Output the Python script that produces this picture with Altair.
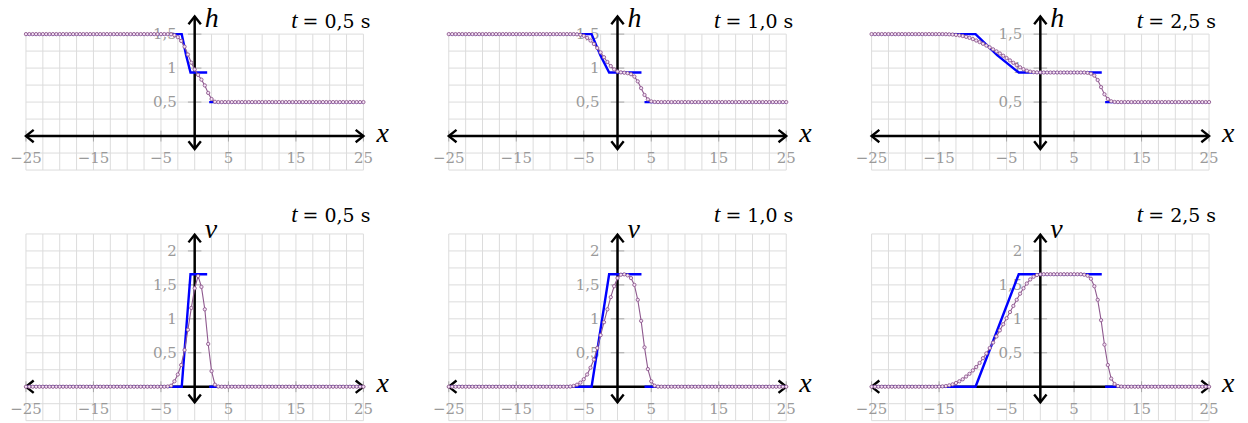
import altair as alt
import pandas as pd

# ---- cell centres of the finite-volume grid ----
X_CELLS = [
    -25.0, -24.5, -24.0, -23.5, -23.0, -22.5, -22.0, -21.5, -21.0, -20.5,
    -20.0, -19.5, -19.0, -18.5, -18.0, -17.5, -17.0, -16.5, -16.0, -15.5,
    -15.0, -14.5, -14.0, -13.5, -13.0, -12.5, -12.0, -11.5, -11.0, -10.5,
    -10.0, -9.5, -9.0, -8.5, -8.0, -7.5, -7.0, -6.5, -6.0, -5.5,
    -5.0, -4.5, -4.0, -3.5, -3.0, -2.5, -2.0, -1.5, -1.0, -0.5,
    0.0, 0.5, 1.0, 1.5, 2.0, 2.5, 3.0, 3.5, 4.0, 4.5,
    5.0, 5.5, 6.0, 6.5, 7.0, 7.5, 8.0, 8.5, 9.0, 9.5,
    10.0, 10.5, 11.0, 11.5, 12.0, 12.5, 13.0, 13.5, 14.0, 14.5,
    15.0, 15.5, 16.0, 16.5, 17.0, 17.5, 18.0, 18.5, 19.0, 19.5,
    20.0, 20.5, 21.0, 21.5, 22.0, 22.5, 23.0, 23.5, 24.0, 24.5,
    25.0,
]

# ---- numerical solution: water depth h ----
H_T05 = [
    1.5, 1.5, 1.5, 1.5, 1.5, 1.5, 1.5, 1.5, 1.5, 1.5,
    1.5, 1.5, 1.5, 1.5, 1.5, 1.5, 1.5, 1.5, 1.5, 1.5,
    1.5, 1.5, 1.5, 1.5, 1.5, 1.5, 1.5, 1.5, 1.5, 1.5,
    1.5, 1.5, 1.5, 1.5, 1.5, 1.5, 1.5, 1.5, 1.5, 1.5,
    1.5, 1.5, 1.5, 1.497, 1.485, 1.455, 1.4, 1.315, 1.2, 1.08,
    0.98, 0.9, 0.83, 0.745, 0.635, 0.545, 0.505, 0.5, 0.5, 0.5,
    0.5, 0.5, 0.5, 0.5, 0.5, 0.5, 0.5, 0.5, 0.5, 0.5,
    0.5, 0.5, 0.5, 0.5, 0.5, 0.5, 0.5, 0.5, 0.5, 0.5,
    0.5, 0.5, 0.5, 0.5, 0.5, 0.5, 0.5, 0.5, 0.5, 0.5,
    0.5, 0.5, 0.5, 0.5, 0.5, 0.5, 0.5, 0.5, 0.5, 0.5,
    0.5,
]
H_T10 = [
    1.5, 1.5, 1.5, 1.5, 1.5, 1.5, 1.5, 1.5, 1.5, 1.5,
    1.5, 1.5, 1.5, 1.5, 1.5, 1.5, 1.5, 1.5, 1.5, 1.5,
    1.5, 1.5, 1.5, 1.5, 1.5, 1.5, 1.5, 1.5, 1.5, 1.5,
    1.5, 1.5, 1.5, 1.5, 1.5, 1.5, 1.5, 1.5, 1.497, 1.49,
    1.475, 1.445, 1.405, 1.355, 1.295, 1.23, 1.16, 1.09, 1.03, 0.98,
    0.95, 0.937, 0.932, 0.925, 0.91, 0.875, 0.805, 0.705, 0.605, 0.54,
    0.51, 0.502, 0.5, 0.5, 0.5, 0.5, 0.5, 0.5, 0.5, 0.5,
    0.5, 0.5, 0.5, 0.5, 0.5, 0.5, 0.5, 0.5, 0.5, 0.5,
    0.5, 0.5, 0.5, 0.5, 0.5, 0.5, 0.5, 0.5, 0.5, 0.5,
    0.5, 0.5, 0.5, 0.5, 0.5, 0.5, 0.5, 0.5, 0.5, 0.5,
    0.5,
]
H_T25 = [
    1.5, 1.5, 1.5, 1.5, 1.5, 1.5, 1.5, 1.5, 1.5, 1.5,
    1.5, 1.5, 1.5, 1.5, 1.5, 1.5, 1.5, 1.5, 1.5, 1.5,
    1.5, 1.5, 1.499, 1.497, 1.494, 1.489, 1.482, 1.472, 1.46, 1.445,
    1.427, 1.406, 1.383, 1.358, 1.332, 1.305, 1.276, 1.246, 1.215, 1.182,
    1.148, 1.113, 1.078, 1.044, 1.012, 0.984, 0.962, 0.948, 0.94, 0.937,
    0.936, 0.935, 0.935, 0.935, 0.935, 0.935, 0.935, 0.935, 0.935, 0.935,
    0.935, 0.935, 0.935, 0.935, 0.93, 0.918, 0.89, 0.825, 0.72, 0.615,
    0.545, 0.512, 0.502, 0.5, 0.5, 0.5, 0.5, 0.5, 0.5, 0.5,
    0.5, 0.5, 0.5, 0.5, 0.5, 0.5, 0.5, 0.5, 0.5, 0.5,
    0.5, 0.5, 0.5, 0.5, 0.5, 0.5, 0.5, 0.5, 0.5, 0.5,
    0.5,
]

# ---- numerical solution: velocity v ----
V_T05 = [
    0, 0, 0, 0, 0, 0, 0, 0, 0, 0,
    0, 0, 0, 0, 0, 0, 0, 0, 0, 0,
    0, 0, 0, 0, 0, 0, 0, 0, 0, 0,
    0, 0, 0, 0, 0, 0, 0, 0, 0, 0,
    0, 0, 0.003, 0.015, 0.08, 0.18, 0.32, 0.54, 0.84, 1.16,
    1.45, 1.63, 1.47, 1.14, 0.63, 0.23, 0.03, 0.003, 0, 0,
    0, 0, 0, 0, 0, 0, 0, 0, 0, 0,
    0, 0, 0, 0, 0, 0, 0, 0, 0, 0,
    0, 0, 0, 0, 0, 0, 0, 0, 0, 0,
    0, 0, 0, 0, 0, 0, 0, 0, 0, 0,
    0,
]
V_T10 = [
    0, 0, 0, 0, 0, 0, 0, 0, 0, 0,
    0, 0, 0, 0, 0, 0, 0, 0, 0, 0,
    0, 0, 0, 0, 0, 0, 0, 0, 0, 0,
    0, 0, 0, 0, 0, 0, 0.003, 0.012, 0.03, 0.06,
    0.11, 0.18, 0.28, 0.40, 0.57, 0.76, 0.95, 1.14, 1.32, 1.48,
    1.6, 1.65, 1.655, 1.64, 1.6, 1.5, 1.28, 0.97, 0.58, 0.26,
    0.08, 0.015, 0.002, 0, 0, 0, 0, 0, 0, 0,
    0, 0, 0, 0, 0, 0, 0, 0, 0, 0,
    0, 0, 0, 0, 0, 0, 0, 0, 0, 0,
    0, 0, 0, 0, 0, 0, 0, 0, 0, 0,
    0,
]
V_T25 = [
    0, 0, 0, 0, 0, 0, 0, 0, 0, 0,
    0, 0, 0, 0, 0, 0, 0, 0, 0, 0,
    0.002, 0.005, 0.01, 0.02, 0.035, 0.055, 0.08, 0.11, 0.15, 0.19,
    0.24, 0.29, 0.35, 0.42, 0.49, 0.57, 0.65, 0.74, 0.83, 0.92,
    1.01, 1.1, 1.19, 1.28, 1.37, 1.45, 1.52, 1.58, 1.62, 1.645,
    1.655, 1.657, 1.657, 1.657, 1.657, 1.657, 1.657, 1.657, 1.657, 1.657,
    1.657, 1.657, 1.657, 1.65, 1.635, 1.59, 1.48, 1.28, 0.98, 0.62,
    0.32, 0.12, 0.04, 0.01, 0.002, 0, 0, 0, 0, 0,
    0, 0, 0, 0, 0, 0, 0, 0, 0, 0,
    0, 0, 0, 0, 0, 0, 0, 0, 0, 0,
    0,
]

TIME_LABELS = ["0,5", "1,0", "2,5"]
NUMERIC = {"h": [H_T05, H_T10, H_T25], "v": [V_T05, V_T10, V_T25]}

# ---- exact Riemann solution: rarefaction fan + shock ----
RAREF_HEAD = [-1.92, -3.84, -9.6]
RAREF_MID = [-1.27, -2.54, -6.4]
RAREF_TAIL = [-0.62, -1.24, -3.2]
STAR_END = [1.85, 3.55, 9.1]
SHOCK_START = [2.15, 4.0, 9.6]
STATES = {
    # left state, value mid-fan, star state, right state
    "h": (1.5, 1.19, 0.935, 0.5),
    "v": (0.0, 0.8285, 1.657, 0.0),
}

# ---- grid, ticks and frame ----
GRID_X = [-25, -22.5, -20, -17.5, -15, -12.5, -10, -7.5, -5, -2.5, 0,
          2.5, 5, 7.5, 10, 12.5, 15, 17.5, 20, 22.5, 25]
GRID_Y = {
    "h": [-0.5, -0.25, 0, 0.25, 0.5, 0.75, 1, 1.25, 1.5],
    "v": [-0.5, -0.25, 0, 0.25, 0.5, 0.75, 1, 1.25, 1.5, 1.75, 2, 2.25],
}
TICK_X = [-25, -15, -5, 5, 15, 25]
TICK_X_LABELS = ["\u221225", "\u221215", "\u22125", "5", "15", "25"]
TICK_Y = {"h": [0.5, 1, 1.5], "v": [0.5, 1, 1.5, 2]}
TICK_Y_LABELS = {"h": ["0,5", "1", "1,5"], "v": ["0,5", "1", "1,5", "2"]}
Y_DOMAIN = {"h": [-0.5, 1.85], "v": [-0.5, 2.5]}
Y_AXIS_SPAN = {"h": [-0.19, 1.76], "v": [-0.23, 2.24]}
TITLE_Y = {"h": 1.596, "v": 2.43}
LETTER_Y = {"h": 1.605, "v": 2.187}
PANEL_W = 338
PANEL_H = {"h": 160, "v": 204}

SERIF = "DejaVu Serif"
MATH = "Liberation Serif"
GRAY_TEXT = "#9a9a9a"
GRID_COLOR = "#dcdcdc"
NUM_COLOR = "#8f5a8f"

CHEVRONS = {
    "l": "M1,-0.8L0,0L1,0.8",
    "r": "M-1,-0.8L0,0L-1,0.8",
    "u": "M-0.8,1L0,0L0.8,1",
    "d": "M-0.8,-1L0,0L0.8,-1",
}

XS = alt.Scale(domain=[-25, 25], nice=False, zero=False)


def panel(var, k, anchor=None):
    ys = alt.Scale(domain=Y_DOMAIN[var], nice=False, zero=False)

    def X(f):
        return alt.X(f, type="quantitative", scale=XS, axis=None)

    def Y(f):
        return alt.Y(f, type="quantitative", scale=ys, axis=None)

    gy = GRID_Y[var]
    grid_v = alt.Chart(pd.DataFrame({"x": GRID_X, "y0": gy[0], "y1": gy[-1]})).mark_rule(
        color=GRID_COLOR, strokeWidth=1
    ).encode(x=X("x"), y=Y("y0"), y2="y1:Q")
    grid_h = alt.Chart(pd.DataFrame({"y": gy, "x0": -25, "x1": 25})).mark_rule(
        color=GRID_COLOR, strokeWidth=1
    ).encode(y=Y("y"), x=X("x0"), x2="x1:Q")

    ticks_x = alt.Chart(pd.DataFrame({"x": TICK_X, "y0": -0.08, "y1": 0.08})).mark_rule(
        color="#a8a8a8", strokeWidth=1
    ).encode(x=X("x"), y=Y("y0"), y2="y1:Q")
    ticks_y = alt.Chart(pd.DataFrame({"y": TICK_Y[var], "x0": -1.0, "x1": 1.0})).mark_rule(
        color="#a8a8a8", strokeWidth=1
    ).encode(y=Y("y"), x=X("x0"), x2="x1:Q")

    labels_x = alt.Chart(pd.DataFrame({"x": TICK_X, "y": 0, "t": TICK_X_LABELS})).mark_text(
        font=SERIF, fontSize=15, color=GRAY_TEXT, align="center", baseline="alphabetic", dy=27
    ).encode(x=X("x"), y=Y("y"), text="t:N")
    labels_y = alt.Chart(pd.DataFrame({"y": TICK_Y[var], "x": 0, "t": TICK_Y_LABELS[var]})).mark_text(
        font=SERIF, fontSize=15, color=GRAY_TEXT, align="right", baseline="alphabetic", dx=-18, dy=5
    ).encode(x=X("x"), y=Y("y"), text="t:N")

    lo, hi = Y_AXIS_SPAN[var]
    axis_x = alt.Chart(pd.DataFrame({"x0": [-25], "x1": [25], "y": [0]})).mark_rule(
        color="black", strokeWidth=2.5
    ).encode(x=X("x0"), x2="x1:Q", y=Y("y"))
    axis_y = alt.Chart(pd.DataFrame({"x": [0], "y0": [lo], "y1": [hi]})).mark_rule(
        color="black", strokeWidth=2.5
    ).encode(x=X("x"), y=Y("y0"), y2="y1:Q")
    arrows = alt.Chart(pd.DataFrame({
        "x": [-25, 25, 0, 0], "y": [0, 0, hi, lo], "dir": ["l", "r", "u", "d"],
    })).mark_point(filled=False, color="black", strokeWidth=2.4, size=240, opacity=1,
                   strokeJoin="miter", strokeCap="butt").encode(
        x=X("x"), y=Y("y"),
        shape=alt.Shape("dir:N", legend=None,
                        scale=alt.Scale(domain=list(CHEVRONS), range=list(CHEVRONS.values()))),
    )

    left, mid, star, right = STATES[var]
    ex = pd.DataFrame({
        "seg": [0, 0, 0, 0, 0, 1, 1],
        "o": [0, 1, 2, 3, 4, 5, 6],
        "x": [-25, RAREF_HEAD[k], RAREF_MID[k], RAREF_TAIL[k], STAR_END[k], SHOCK_START[k], 25],
        "y": [left, left, mid, star, star, right, right],
    })
    exact = alt.Chart(ex).mark_line(color="#0000ff", strokeWidth=2.4).encode(
        x=X("x"), y=Y("y"), detail="seg:N", order="o:Q"
    )

    num = pd.DataFrame({"x": X_CELLS, "y": NUMERIC[var][k]})
    num_line = alt.Chart(num).mark_line(color=NUM_COLOR, strokeWidth=1.1).encode(x=X("x"), y=Y("y"))
    num_pts = alt.Chart(num).mark_point(
        shape="circle", filled=True, fill="#f4e2f4", stroke=NUM_COLOR, strokeWidth=0.9,
        size=11, opacity=1, fillOpacity=1
    ).encode(x=X("x"), y=Y("y"))

    x_letter = alt.Chart(pd.DataFrame({"x": [25], "y": [-0.084]})).mark_text(
        text="x", font=MATH, fontStyle="italic", fontSize=28, align="left", baseline="alphabetic", dx=13
    ).encode(x=X("x"), y=Y("y"))
    y_letter = alt.Chart(pd.DataFrame({"x": [0], "y": [LETTER_Y[var]]})).mark_text(
        text=var, font=MATH, fontStyle="italic", fontSize=28, align="left", baseline="alphabetic", dx=10
    ).encode(x=X("x"), y=Y("y"))

    title_df = pd.DataFrame({"x": [25], "y": [TITLE_Y[var]]})
    title_t = alt.Chart(title_df).mark_text(
        text="t", font=MATH, fontStyle="italic", fontSize=23, align="right", baseline="alphabetic", dx=-66
    ).encode(x=X("x"), y=Y("y"))
    title_rest = alt.Chart(title_df).mark_text(
        text="= " + TIME_LABELS[k] + " s", font=SERIF, fontSize=19, align="right",
        baseline="alphabetic", dx=7
    ).encode(x=X("x"), y=Y("y"))

    layers = [grid_v, grid_h, ticks_x, ticks_y, labels_y, labels_x, axis_x, axis_y, arrows,
              exact, num_line, num_pts, x_letter, y_letter, title_t, title_rest]

    if anchor is not None:
        # invisible corner point that pins the outer bounds of the figure
        layers.append(alt.Chart(pd.DataFrame({"x0": [anchor[0]], "x1": [anchor[0] + 0.001],
                                              "y": [anchor[1]]})).mark_rule(
            color="white", strokeWidth=0, opacity=0
        ).encode(x=X("x0"), x2="x1:Q", y=Y("y")))

    return alt.layer(*layers).properties(width=PANEL_W, height=PANEL_H[var])


panels = [
    panel("h", 0, anchor=(-25 - 25 / 6.76, 1.85 + 10 / 68.09)),
    panel("h", 1),
    panel("h", 2),
    panel("v", 0),
    panel("v", 1),
    panel("v", 2, anchor=(25 + 38 / 6.76, -0.5 - 2 / 68.0)),
]

chart = alt.concat(
    *panels, columns=3, spacing={"row": 47, "column": 85.5}, bounds="flush"
).properties(padding=0, background="white").configure_view(stroke=None)

chart.save("out.html", embed_options={"renderer": "svg", "actions": False})
